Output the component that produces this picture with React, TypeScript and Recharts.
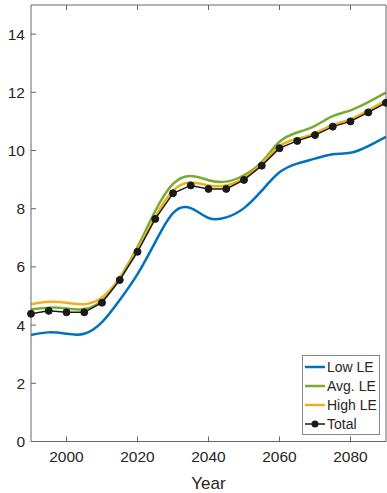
import { LineChart, Line, XAxis, YAxis, Legend } from 'recharts'

const years = [1990, 1995, 2000, 2005, 2010, 2015, 2020, 2025, 2030, 2035, 2040, 2045, 2050, 2055, 2060, 2065, 2070, 2075, 2080, 2085, 2090]
const lowLE = [3.66, 3.75, 3.70, 3.70, 4.10, 4.86, 5.75, 6.85, 7.85, 8.02, 7.68, 7.70, 8.02, 8.62, 9.25, 9.55, 9.72, 9.87, 9.92, 10.15, 10.47]
const avgLE = [4.54, 4.60, 4.57, 4.55, 4.85, 5.62, 6.68, 7.92, 8.85, 9.12, 8.98, 8.93, 9.15, 9.60, 10.30, 10.62, 10.85, 11.18, 11.38, 11.66, 11.99]
const highLE = [4.72, 4.80, 4.77, 4.72, 4.95, 5.62, 6.60, 7.72, 8.62, 8.90, 8.80, 8.80, 9.05, 9.55, 10.15, 10.40, 10.60, 10.88, 11.07, 11.38, 11.72]
const total = [4.39, 4.49, 4.44, 4.44, 4.77, 5.55, 6.52, 7.65, 8.53, 8.80, 8.68, 8.68, 8.99, 9.48, 10.08, 10.33, 10.53, 10.82, 11.0, 11.31, 11.64]

const xTicks = [2000, 2020, 2040, 2060, 2080]
const yTicks = [0, 2, 4, 6, 8, 10, 12, 14]

const series = [
  { key: 'low', name: 'Low LE', color: '#0072BD' },
  { key: 'avg', name: 'Avg. LE', color: '#77AC30' },
  { key: 'high', name: 'High LE', color: '#EDB120' },
  { key: 'total', name: 'Total', color: '#1a1a1a' }
]

const data = years.map((year, i) => ({
  year,
  low: lowLE[i],
  avg: avgLE[i],
  high: highLE[i],
  total: total[i]
}))

const axisColor = '#666'
const textColor = '#262626'
const font = '"Liberation Sans", Arial, sans-serif'

function LegendBox() {
  return (
    <div style={{ background: '#fff', border: '1px solid #888', padding: '1px 2px', fontFamily: font, fontSize: 14, color: textColor }}>
      {series.map((s) => (
        <div key={s.key} style={{ display: 'flex', alignItems: 'center', height: 19 }}>
          <svg width={20} height={10} style={{ marginRight: 2 }}>
            <line x1={0} y1={5} x2={20} y2={5} stroke={s.color} strokeWidth={s.key === 'total' ? 1.5 : 2.5} />
            {s.key === 'total' && <circle cx={10} cy={5} r={3.5} fill={s.color} />}
          </svg>
          <span>{s.name}</span>
        </div>
      ))}
    </div>
  )
}

export default function App() {
  return (
    <div style={{ position: 'absolute', left: 0, top: 0, width: 387, height: 493, background: '#fff' }}>
      <LineChart width={387} height={493} data={data} margin={{ top: 4, right: 0, bottom: 0, left: 0 }}>
        <XAxis
          xAxisId="b"
          dataKey="year"
          type="number"
          domain={[1990, 2090]}
          ticks={xTicks}
          height={51.5}
          tickSize={-5}
          tickMargin={14}
          stroke={axisColor}
          tick={{ fill: textColor, fontSize: 15.5, fontFamily: font }}
          label={{ value: 'Year', position: 'insideBottom', offset: 4, fill: textColor, fontSize: 17, fontFamily: font }}
        />
        <XAxis
          xAxisId="t"
          dataKey="year"
          type="number"
          orientation="top"
          domain={[1990, 2090]}
          ticks={xTicks}
          height={1}
          tickSize={-5}
          stroke={axisColor}
          tickFormatter={() => ''}
        />
        <YAxis
          yAxisId="l"
          type="number"
          domain={[0, 15]}
          ticks={yTicks}
          width={31}
          tickSize={-5}
          tickMargin={11}
          stroke={axisColor}
          tick={{ fill: textColor, fontSize: 15.5, fontFamily: font }}
        />
        <YAxis
          yAxisId="r"
          type="number"
          orientation="right"
          domain={[0, 15]}
          ticks={yTicks}
          width={1}
          tickSize={-5}
          stroke={axisColor}
          tickFormatter={() => ''}
        />
        {series.slice(0, 3).map((s) => (
          <Line
            key={s.key}
            xAxisId="b"
            yAxisId="l"
            type="natural"
            dataKey={s.key}
            name={s.name}
            stroke={s.color}
            strokeWidth={2.5}
            dot={false}
            isAnimationActive={false}
          />
        ))}
        <Line
          xAxisId="b"
          yAxisId="l"
          type="linear"
          dataKey="total"
          name="Total"
          stroke="#1a1a1a"
          strokeWidth={1.5}
          dot={{ r: 3.5, fill: '#1a1a1a', stroke: '#1a1a1a', strokeWidth: 1 }}
          isAnimationActive={false}
        />
        <Legend
          layout="horizontal"
          verticalAlign="middle"
          align="center"
          content={() => <LegendBox />}
          wrapperStyle={{ position: 'absolute', left: 302, top: 355, width: 78, height: 80 }}
        />
      </LineChart>
    </div>
  )
}
